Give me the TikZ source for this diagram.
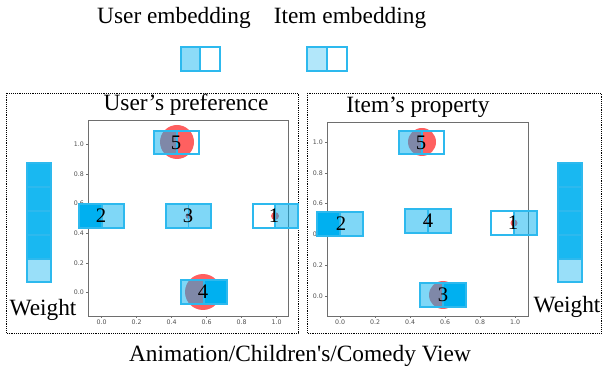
\documentclass[tikz,border=0pt]{standalone}
\usepackage{fontspec}
\setmainfont{Liberation Serif}
\setsansfont{DejaVu Sans}

\definecolor{cellblue}{RGB}{0,176,240}
\definecolor{edgeblue}{RGB}{45,185,238}
\definecolor{dotred}{RGB}{255,96,96}
\definecolor{axisgrey}{RGB}{110,110,110}
\definecolor{ticktext}{RGB}{80,80,80}

\begin{document}
\begin{tikzpicture}[x=0.75pt,y=-0.75pt,
	fullcell/.style={draw=edgeblue,line width=0.9pt,fill=cellblue},
	halfcell/.style={draw=edgeblue,line width=0.9pt,fill=cellblue,fill opacity=0.5},
	nocell/.style={draw=edgeblue,line width=0.9pt},
	dot/.style={fill=dotred},
	title/.style={font=\fontsize{17.5}{20}\selectfont},
	num/.style={font=\fontsize{15.5}{16}\selectfont,inner sep=0pt},
	tick/.style={font=\sffamily\fontsize{4.7}{5}\selectfont,text=ticktext,inner sep=1pt}]
	\useasboundingbox (0,0) rectangle (602,373);

	%legend
	\node[title] (userleg) at (174,18) {User embedding};
	\node[title] (itemleg) at (350,18) {Item embedding};
	\draw[halfcell,fill opacity=0.45] (181,47) rectangle (200,71); %user
	\draw[nocell] (200,47) rectangle (220,71);
	\draw[halfcell,fill opacity=0.3] (307,47) rectangle (327,71); %item
	\draw[nocell] (327,47) rectangle (347,71);

	%frames
	\draw[densely dotted] (6,93) rectangle (298,333);
	\draw[densely dotted] (307,93) rectangle (601,333);
	\node[title] (caption) at (300,356) {Animation/Children\textquotesingle s/Comedy View};

	%user panel
	\node[title] (usertitle) at (186,105) {User’s preference};
	\draw[axisgrey,line width=0.6pt] (88,120) rectangle (288,316); %axes
	\foreach \v/\t in {0/0.0,0.2/0.2,0.4/0.4,0.6/0.6,0.8/0.8,1/1.0}{
		\draw[axisgrey,line width=0.4pt] (88,{292.5-148*\v}) -- (85.5,{292.5-148*\v}) node[tick,left] {\t};
		\draw[axisgrey,line width=0.4pt] ({101.7+175*\v},316) -- ({101.7+175*\v},318.5) node[tick,below] {\t};
	}
	\fill[dot] (177,142) circle (17); %5
	\draw[halfcell] (154,131) rectangle (177,154);
	\draw[nocell] (177,131) rectangle (199,154);
	\node[num] (u5) at (176,143) {5};
	\draw[fullcell] (79,204) rectangle (102,228); %2
	\draw[halfcell] (102,204) rectangle (124,228);
	\node[num] (u2) at (101,216) {2};
	\fill[dot] (188.5,216) circle (3); %3
	\draw[halfcell] (166,204) rectangle (188.5,228);
	\draw[halfcell] (188.5,204) rectangle (211,228);
	\node[num] (u3) at (188,216) {3};
	\fill[dot] (275,216) circle (4); %1
	\draw[nocell] (253,204) rectangle (275,228);
	\draw[halfcell] (275,204) rectangle (298,228);
	\node[num] (u1) at (274,216) {1};
	\fill[dot] (203,292) circle (18); %4
	\draw[halfcell] (181,280) rectangle (204,304);
	\draw[fullcell] (204,280) rectangle (227,304);
	\node[num] (u4) at (203,292) {4};

	%item panel
	\node[title] (itemtitle) at (418,107) {Item’s property};
	\draw[axisgrey,line width=0.6pt] (327,122) rectangle (528,316); %axes
	\foreach \v/\t in {0/0.0,0.2/0.2,0.4/0.4,0.6/0.6,0.8/0.8,1/1.0}{
		\draw[axisgrey,line width=0.4pt] (327,{296-154*\v}) -- (324.5,{296-154*\v}) node[tick,left] {\t};
		\draw[axisgrey,line width=0.4pt] ({340+175*\v},316) -- ({340+175*\v},318.5) node[tick,below] {\t};
	}
	\fill[dot] (422,142) circle (14); %5
	\draw[halfcell] (399,131) rectangle (422,154);
	\draw[nocell] (422,131) rectangle (444,154);
	\node[num] (i5) at (421,143) {5};
	\draw[fullcell] (317,212) rectangle (340,236); %2
	\draw[halfcell] (340,212) rectangle (363,236);
	\node[num] (i2) at (341,224) {2};
	\fill[dot] (428,221) circle (3); %4
	\draw[halfcell] (405,209) rectangle (428,233);
	\draw[halfcell] (428,209) rectangle (451,233);
	\node[num] (i4) at (428,221) {4};
	\fill[dot] (514,223) circle (3.5); %1
	\draw[nocell] (491,211) rectangle (514,235);
	\draw[halfcell] (514,211) rectangle (537,235);
	\node[num] (i1) at (513,223) {1};
	\fill[dot] (443,295) circle (14); %3
	\draw[halfcell] (420,283) rectangle (443,307);
	\draw[fullcell] (443,283) rectangle (466,307);
	\node[num] (i3) at (443,295) {3};

	%weights
	\foreach \wx in {27,558}{
		\draw[fullcell,fill opacity=0.9] (\wx,163) rectangle ++(24,24);
		\draw[fullcell,fill opacity=0.9] (\wx,187) rectangle ++(24,24);
		\draw[fullcell,fill opacity=0.9] (\wx,211) rectangle ++(24,24);
		\draw[fullcell,fill opacity=0.9] (\wx,235) rectangle ++(24,24);
		\draw[fullcell,fill opacity=0.4] (\wx,259) rectangle ++(24,23);
	}
	\node[title] (wleft) at (43,310) {Weight};
	\node[title] (wright) at (567,307) {Weight};
\end{tikzpicture}
\end{document}
